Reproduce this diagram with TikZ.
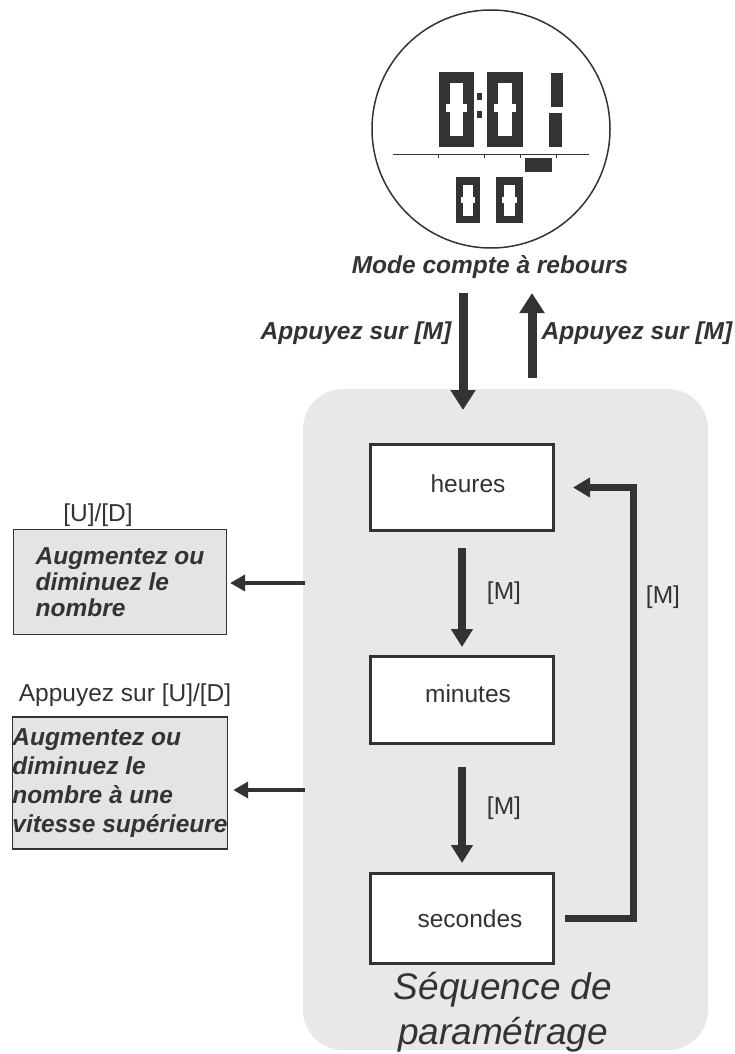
\documentclass[tikz,border=0pt]{standalone}
\usepackage{fontspec}
\setmainfont{Liberation Sans}
\usetikzlibrary{arrows.meta,positioning}
\definecolor{encre}{HTML}{333333}
\definecolor{fond}{HTML}{E8E8E8}
\definecolor{cadre}{HTML}{E4E4E4}

\begin{document}
\begin{tikzpicture}[x=1pt,y=-1pt,
	every node/.style={inner sep=0pt,text=encre},
	gras/.style={font=\fontsize{24.5}{26}\selectfont\bfseries\itshape},
	normal/.style={font=\fontsize{24.5}{26}\selectfont},
	etape/.style={draw=encre,line width=3pt,fill=white,minimum width=183pt,normal},
	aide/.style={draw=encre,line width=1.2pt,fill=cadre,minimum width=213pt,align=left},
	cadran/.style={draw=encre,line width=1.5pt,circle,minimum size=238pt},
	lcd/.style={fill=encre},
	grosse/.style={draw=encre,line width=9pt,-{Triangle[length=20pt,width=24pt]}},
	suite/.style={draw=encre,line width=8pt,-{Triangle[length=18pt,width=21pt]}},
	boucle/.style={draw=encre,line width=7pt,line join=miter,-{Triangle[length=17pt,width=19pt]}},
	laterale/.style={draw=encre,line width=4.5pt,-{Triangle[length=15pt,width=16pt]}}]
	\useasboundingbox (0,0) rectangle (735,1054);
	\fill[fond,rounded corners=40pt] (303,389) rectangle (708,1050);
	\node[cadran] (montre) at (491,129) {};
	\fill[lcd] (439,72) rectangle (474,147);
	\fill[white] (450,83) rectangle (463,136);
	\fill[white] (446,104) rectangle (467,112);
	\fill[lcd] (477,93) rectangle (482,100);
	\fill[lcd] (477,111) rectangle (482,118);
	\fill[lcd] (487,72) rectangle (523,147);
	\fill[white] (498,83) rectangle (512,136);
	\fill[white] (494,104) rectangle (516,112);
	\fill[lcd] (551,73) rectangle (563,107);
	\fill[lcd] (549,113) rectangle (562,147);
	\draw[encre,line width=1pt] (393,154) -- (589,154);
	\draw[encre,line width=1pt] (438,154) -- (438,158) (484,154) -- (484,158) (520,154) -- (520,158) (556,154) -- (556,158);
	\fill[lcd] (525,158) rectangle (552,172);
	\fill[lcd] (456,177) rectangle (480,223);
	\fill[white] (463,185) rectangle (473,216);
	\fill[white] (461,197) rectangle (475,203);
	\fill[lcd] (496,177) rectangle (523,223);
	\fill[white] (504,185) rectangle (515,216);
	\fill[white] (502,197) rectangle (517,203);
	\node[gras] (mode) at (490,267) {Mode compte à rebours};
	\node[gras] (appui1) at (356,333) {Appuyez sur [M]};
	\node[gras] (appui2) at (637,333) {Appuyez sur [M]};
	\node[etape,minimum height=86pt] (heures) at (462,487.5) {\hspace*{12pt}\raisebox{7pt}{heures}};
	\node[etape,minimum height=87pt] (minutes) at (462,700) {\hspace*{12pt}\raisebox{12pt}{minutes}};
	\node[etape,minimum height=90pt] (secondes) at (462,918.5) {\hspace*{16pt}\raisebox{-6pt}{secondes}};
	\node[normal] (m1) at (504,593) {[M]};
	\node[normal] (m2) at (504,808) {[M]};
	\node[normal] (m3) at (663,597) {[M]};
	\node[font=\fontsize{37}{45}\selectfont\itshape,align=center] (titre) at (503,1012) {Séquence de\\paramétrage};
	\node[normal] (ud1) at (98,515) {[U]/[D]};
	\node[aide,minimum height=105pt,font=\fontsize{24.5}{26}\selectfont\bfseries\itshape] (aide1) at (120,582) {Augmentez ou\\diminuez le\\nombre};
	\node[normal] (ud2) at (125,695) {Appuyez sur [U]/[D]};
	\node[aide,minimum height=132pt,font=\fontsize{24.5}{29}\selectfont\bfseries\itshape] (aide2) at (120,783) {Augmentez ou\\diminuez le\\nombre à une\\vitesse supérieure};
	\coordinate (bas1) at (463,293);
	\coordinate (bas2) at (463,410);
	\coordinate (haut1) at (532,378);
	\coordinate (haut2) at (532,293);
	\coordinate (g1) at (305,583);
	\coordinate (g2) at (305,790);
	\draw[grosse] (bas1) -- (bas2);
	\draw[grosse] (haut1) -- (haut2);
	\draw[suite] ([yshift=-16pt]heures.south) -- ([yshift=8pt]minutes.north);
	\draw[suite] ([yshift=-22pt]minutes.south) -- ([yshift=9pt]secondes.north);
	\draw[boucle] ([xshift=10pt]secondes.east) -- ++(68,0) |- ([xshift=18pt]heures.east);
	\draw[laterale] (g1) -- ([xshift=3pt]aide1.east |- g1);
	\draw[laterale] (g2) -- ([xshift=5pt]aide2.east |- g2);
\end{tikzpicture}
\end{document}
